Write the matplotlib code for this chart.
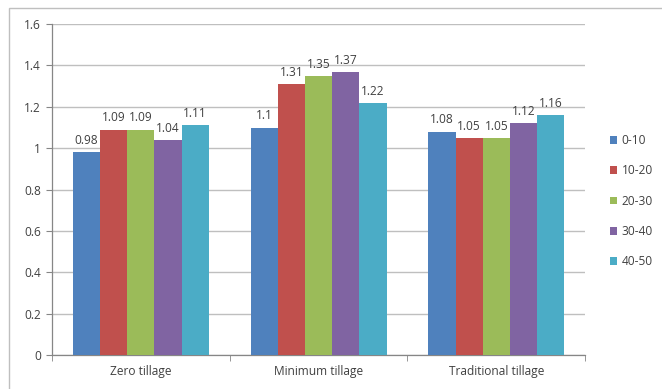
import matplotlib
matplotlib.use("Agg")
import matplotlib.pyplot as plt
from matplotlib.patches import Rectangle
import numpy as np

categories = ["Zero tillage", "Minimum tillage", "Traditional tillage"]
series_names = ["0-10", "10-20", "20-30", "30-40", "40-50"]
values = {
    "0-10":  [0.98, 1.10, 1.08],
    "10-20": [1.09, 1.31, 1.05],
    "20-30": [1.09, 1.35, 1.05],
    "30-40": [1.04, 1.37, 1.12],
    "40-50": [1.11, 1.22, 1.16],
}
colors = ["#4F81BD", "#C0504D", "#9BBB59", "#8064A2", "#4BACC6"]
yticks = [0, 0.2, 0.4, 0.6, 0.8, 1, 1.2, 1.4, 1.6]

plt.rcParams["font.family"] = ["Open Sans", "DejaVu Sans"]
text_color = "#404040"
fs = 8.6

fig = plt.figure(figsize=(6.62, 3.89), dpi=100)
ax = fig.add_axes([0.0785, 0.0874, 0.8055, 0.8506])

# chart frame
fig.patches.append(Rectangle((9 / 662, -0.05), 1.0, 1 - 8 / 389 + 0.05,
                             transform=fig.transFigure, fill=False,
                             edgecolor="#BFBFBF", linewidth=1.0))

x = np.arange(len(categories))
bw = 0.153
n = len(series_names)
for i, name in enumerate(series_names):
    pos = x + (i - (n - 1) / 2) * bw
    ax.bar(pos, values[name], width=bw, color=colors[i], label=name, zorder=3)
    for p, v in zip(pos, values[name]):
        ax.text(p, v + 0.025, f"{v:g}", ha="center", va="bottom",
                fontsize=fs, color=text_color)

ax.set_xlim(-0.5, 2.5)
ax.set_ylim(0, 1.6)
ax.set_yticks(yticks)
ax.set_yticklabels([f"{t:g}" for t in yticks])
ax.set_xticks(x)
ax.set_xticklabels(categories)
ax.set_xticks([-0.5, 0.5, 1.5, 2.5], minor=True)
ax.tick_params(axis="x", which="major", length=0, pad=7, labelsize=fs,
               colors=text_color)
ax.tick_params(axis="x", which="minor", length=4, color="#868686",
               direction="out")
ax.tick_params(axis="y", length=4, color="#868686", labelsize=fs,
               colors=text_color, pad=4)
ax.yaxis.grid(True, color="#BFBFBF", linewidth=1.0, zorder=0)
for s in ["top", "right"]:
    ax.spines[s].set_visible(False)
for s in ["left", "bottom"]:
    ax.spines[s].set_color("#868686")
    ax.spines[s].set_linewidth(0.9)

fig.legend(loc="center left", bbox_to_anchor=(0.905, 0.483),
           frameon=False, fontsize=fs, handlelength=0.6,
           handleheight=0.6, handletextpad=0.4, labelspacing=1.45,
           labelcolor=text_color)

fig.savefig("out.png", dpi=100)
